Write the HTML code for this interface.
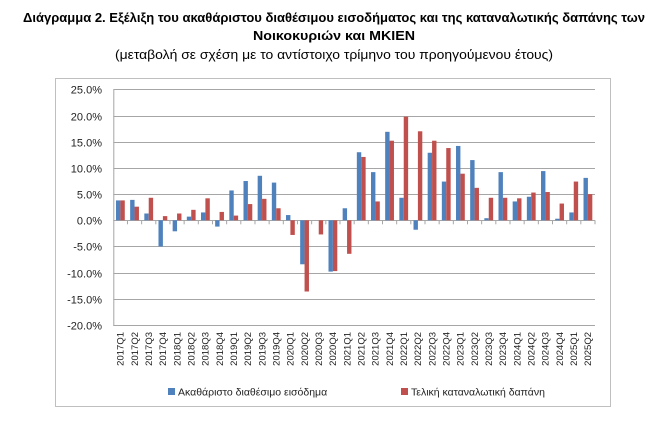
<!DOCTYPE html>
<html><head><meta charset="utf-8"><style>
body{margin:0;background:#fff;width:668px;height:417px;overflow:hidden}
</style></head><body>
<svg width="668" height="417" xmlns="http://www.w3.org/2000/svg" font-family="'Liberation Sans', sans-serif">
<text x="334" y="22" text-anchor="middle" font-size="12.5" font-weight="bold" textLength="622" lengthAdjust="spacingAndGlyphs">Διάγραμμα 2. Εξέλιξη του ακαθάριστου διαθέσιμου εισοδήματος και της καταναλωτικής δαπάνης των</text>
<text x="334" y="40" text-anchor="middle" font-size="12.5" font-weight="bold" textLength="162" lengthAdjust="spacingAndGlyphs">Νοικοκυριών και ΜΚΙΕΝ</text>
<text x="334" y="59" text-anchor="middle" font-size="12.5" textLength="438" lengthAdjust="spacingAndGlyphs">(μεταβολή σε σχέση με το αντίστοιχο τρίμηνο του προηγούμενου έτους)</text>
<rect x="55.5" y="78.5" width="555" height="328" fill="none" stroke="#bfbfbf"/>
<g id="grid" stroke="#a6a6a6" stroke-width="1"></g>
<g id="bars"></g>
<g id="lbl" font-size="11" fill="#222"></g>
<rect x="168" y="388" width="7" height="7" fill="#4f81bd"/>
<text x="178" y="395.5" font-size="10.5" fill="#222">Ακαθάριστο διαθέσιμο εισόδημα</text>
<rect x="401" y="388" width="7" height="7" fill="#c0504d"/>
<text x="411" y="395.5" font-size="10.5" fill="#222">Τελική καταναλωτική δαπάνη</text>
<script>
var ns="http://www.w3.org/2000/svg";
function el(p,t,a,txt){var e=document.createElementNS(ns,t);for(var k in a)e.setAttribute(k,a[k]);if(txt!=null)e.textContent=txt;document.getElementById(p).appendChild(e);}
var L=113.3,R=595,y0=220.3,s=5.236;
for(var v=-20;v<=25;v+=5){var y=Math.round(y0-v*s)+0.5;el('grid','line',{x1:L,x2:R,y1:y,y2:y});
el('lbl','text',{x:102,y:y+4,'text-anchor':'end'},v.toFixed(1)+'%');}
el('grid','line',{x1:L+0.5,x2:L+0.5,y1:90,y2:326});
var b=[3.8,3.9,1.3,-5.0,-2.1,0.7,1.5,-1.2,5.7,7.5,8.5,7.2,1.0,-8.4,0,-9.8,2.3,13.0,9.2,16.9,4.3,-1.8,12.9,7.4,14.2,11.5,0.4,9.2,3.6,4.5,9.4,0.3,1.5,8.1];
var r=[3.8,2.6,4.3,0.8,1.3,2.0,4.2,1.6,0.9,3.1,4.1,2.3,-2.8,-13.6,-2.7,-9.7,-6.4,12.1,3.6,15.2,19.8,17.0,15.2,13.8,8.9,6.2,4.3,4.3,4.2,5.3,5.4,3.2,7.4,5.0];
var w=(R-L)/34;
for(var i=0;i<34;i++){var c=L+w*(i+0.5);
function bar(v,x,col){var h=Math.abs(v)*s;el('bars','rect',{x:x,y:v>=0?y0-h:y0,width:4.4,height:h,fill:col});}
bar(b[i],c-4.4,'#4f81bd');bar(r[i],c,'#c0504d');
el('grid','line',{x1:L+w*(i+1),x2:L+w*(i+1),y1:y0,y2:y0+4});
var yr=2017+Math.floor(i/4),q=i%4+1;
el('lbl','text',{x:0,y:0,'font-size':9.5,'text-anchor':'end',transform:'translate('+(c+3.2)+',332) rotate(-90)'},yr+'Q'+q);}
</script>
</svg>
</body></html>
